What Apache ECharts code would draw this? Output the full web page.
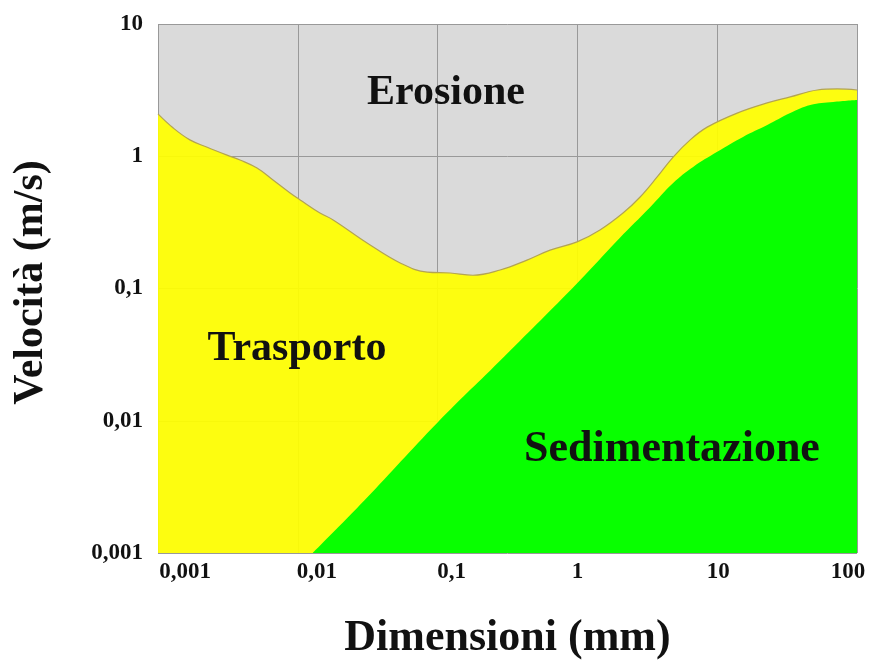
<!DOCTYPE html>
<html>
<head>
<meta charset="utf-8">
<style>
html, body { margin: 0; padding: 0; background: #fff; }
#main { width: 869px; height: 660px; }
</style>
<script src="https://cdn.jsdelivr.net/npm/echarts@6/dist/echarts.min.js"></script>
</head>
<body>
<div id="main"></div>
<script>
// curva di erosione (limite grigio / giallo)
var erosioneDim = [0.001, 0.00128, 0.00169, 0.00225, 0.00312, 0.00386, 0.00511, 0.00665, 0.00881, 0.0104,
  0.0144, 0.0179, 0.0313, 0.054, 0.0842, 0.123, 0.179, 0.28, 0.436, 0.638,
  0.995, 1.45, 2.12, 2.81, 3.72, 4.84, 6.41, 8.48, 13.9, 22.8, 33.3, 52, 72.3, 100];
var erosioneVel = [2.09, 1.64, 1.33, 1.17, 1.02, 0.937, 0.815, 0.661, 0.527, 0.467,
  0.372, 0.33, 0.221, 0.156, 0.133, 0.131, 0.126, 0.138, 0.164, 0.195,
  0.225, 0.277, 0.372, 0.492, 0.697, 0.986, 1.33, 1.66, 2.12, 2.53, 2.81, 3.17, 3.23, 3.17];

// curva di sedimentazione (limite giallo / verde)
var sedimDim = [0.0128, 0.03, 0.1, 0.3, 1.0, 2.0, 3.3, 4.84, 6.73, 10, 15.3, 22.8, 33.3, 46.3, 67.6, 100];
var sedimVel = [0.001, 0.0025, 0.0097, 0.0306, 0.11, 0.24, 0.41, 0.628, 0.83, 1.08, 1.4, 1.72, 2.12, 2.44, 2.57, 2.66];

var xTickLabels = ["0,001", "0,01", "0,1", "1", "10", "100"];
var yTickLabels = ["0,001", "0,01", "0,1", "1", "10"];

function zip(a, b) {
  var out = [];
  for (var i = 0; i < a.length; i++) out.push([a[i], b[i]]);
  return out;
}

var font = '"Liberation Serif", "Times New Roman", serif';
var tickStyle = { fontFamily: font, fontWeight: "bold", fontSize: 23, color: "#111" };

var myChart = echarts.init(document.getElementById("main"));

var option = {
  animation: false,
  grid: {
    left: 158,
    right: 12,
    top: 24,
    bottom: 107,
    outerBoundsMode: "none",
    containLabel: false,
    show: true,
    backgroundColor: "#dadada",
    borderWidth: 0,
  },
  xAxis: {
    type: "log",
    logBase: 10,
    min: 0.001,
    max: 100,
    name: "Dimensioni (mm)",
    nameLocation: "middle",
    nameGap: 64,
    nameTextStyle: { fontFamily: font, fontWeight: "bold", fontSize: 44, color: "#111" },
    axisLine: { show: false },
    axisTick: { show: false },
    splitLine: { show: true, lineStyle: { color: "#999", width: 1 } },
    axisLabel: {
      showMinLabel: true,
      showMaxLabel: true,
      margin: 8,
      fontFamily: font,
      fontWeight: "bold",
      fontSize: 23,
      color: "#111",
      formatter: function (v) {
        var k = Math.round(Math.log10(v)) + 3;
        return "{p" + k + "|" + xTickLabels[k] + "}";
      },
      rich: {
        p0: Object.assign({ padding: [0, 0, 0, 54] }, tickStyle),
        p1: Object.assign({ padding: [0, 0, 0, 38] }, tickStyle),
        p2: Object.assign({ padding: [0, 0, 0, 28] }, tickStyle),
        p3: Object.assign({}, tickStyle),
        p4: Object.assign({ padding: [0, 0, 0, 2] }, tickStyle),
        p5: Object.assign({ padding: [0, 18, 0, 0] }, tickStyle),
      },
    },
  },
  yAxis: {
    type: "log",
    logBase: 10,
    min: 0.001,
    max: 10,
    name: "Velocità (m/s)",
    nameLocation: "middle",
    nameGap: 106,
    nameTextStyle: { fontFamily: font, fontWeight: "bold", fontSize: 42, color: "#111", padding: [0, 0, 0, 12] },
    axisLine: { show: false },
    axisTick: { show: false },
    splitLine: { show: true, lineStyle: { color: "#999", width: 1 } },
    axisLabel: {
      showMinLabel: true,
      showMaxLabel: true,
      margin: 15,
      fontFamily: font,
      fontWeight: "bold",
      fontSize: 23,
      color: "#111",
      formatter: function (v) {
        var k = Math.round(Math.log10(v)) + 3;
        return yTickLabels[k];
      },
    },
  },
  series: [
    {
      name: "Trasporto",
      type: "line",
      smooth: 0.4,
      showSymbol: false,
      data: zip(erosioneDim, erosioneVel),
      lineStyle: { color: "#b3a452", width: 1.2 },
      areaStyle: { origin: "start", color: "#ffff00", opacity: 0.93 },
    },
    {
      name: "Sedimentazione",
      type: "line",
      smooth: 0.4,
      showSymbol: false,
      data: zip(sedimDim, sedimVel),
      lineStyle: { width: 0 },
      areaStyle: { origin: "start", color: "#00ff00", opacity: 0.97 },
    },
  ],
  graphic: [
    {
      type: "text", x: 446, y: 93, z: 100,
      style: { text: "Erosione", font: "bold 42px " + font, fill: "#111", align: "center", verticalAlign: "middle" },
    },
    {
      type: "text", x: 297, y: 349, z: 100,
      style: { text: "Trasporto", font: "bold 42px " + font, fill: "#111", align: "center", verticalAlign: "middle" },
    },
    {
      type: "text", x: 672, y: 450, z: 100,
      style: { text: "Sedimentazione", font: "bold 44px " + font, fill: "#111", align: "center", verticalAlign: "middle" },
    },
  ],
};

myChart.setOption(option);
</script>
</body>
</html>
